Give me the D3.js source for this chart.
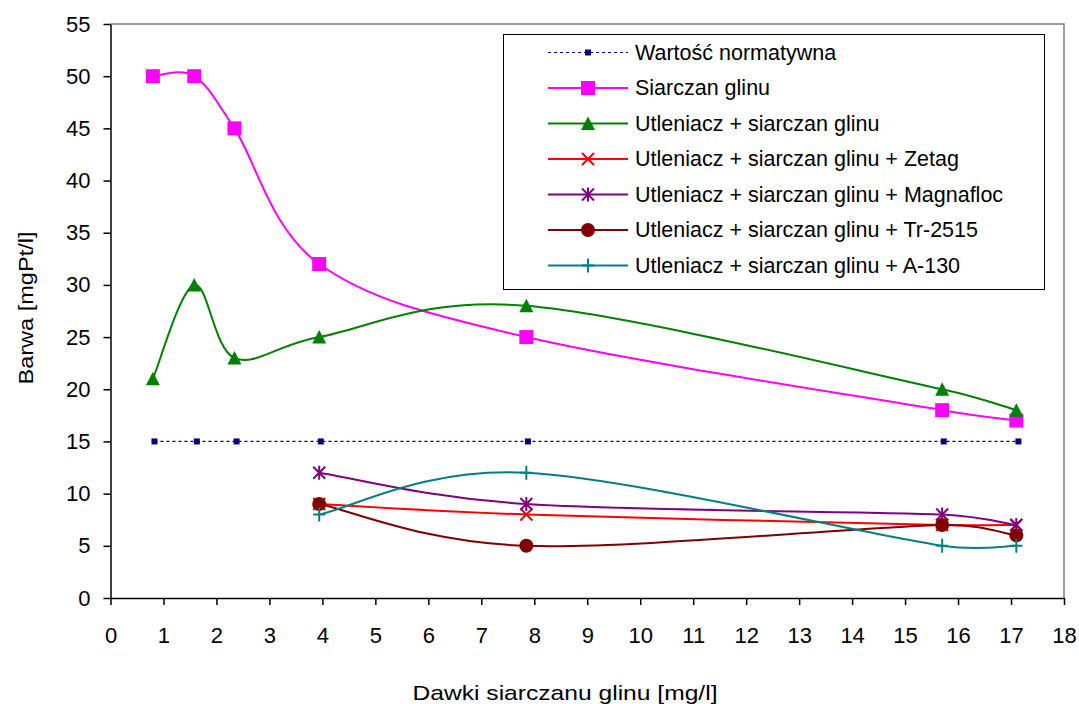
<!DOCTYPE html>
<html>
<head>
<meta charset="utf-8">
<script src="https://cdn.jsdelivr.net/npm/d3@7/dist/d3.min.js"></script>
<style>
  html, body { margin: 0; padding: 0; background: #fff; }
  svg { display: block; font-family: Arial, "Liberation Sans", sans-serif; }
</style>
</head>
<body>
<svg id="chart" width="1079" height="704"></svg>
<script>
// Doses of aluminium sulphate [mg/l]
const doses = [0.8, 1.58, 2.34, 3.94, 7.85, 15.7, 17.1];
const normDoses = [0.83, 1.63, 2.38, 3.97, 7.88, 15.73, 17.14];

// Colour [mgPt/l] per series
const normValues = [15, 15, 15, 15, 15, 15, 15];
const siarczanValues = [50, 50, 45, 32, 25, 18, 17];
const utlValues = [21, 30, 23, 25, 28, 20, 18];
const zetagValues = [9, 8, 7, 7];
const magnaflocValues = [12, 9, 8, 7];
const trValues = [9, 5, 7, 6];
const a130Values = [8, 12, 5, 5];

const seriesNames = [
  "Wartość normatywna",
  "Siarczan glinu",
  "Utleniacz + siarczan glinu",
  "Utleniacz + siarczan glinu + Zetag",
  "Utleniacz + siarczan glinu + Magnafloc",
  "Utleniacz + siarczan glinu + Tr-2515",
  "Utleniacz + siarczan glinu + A-130"
];

const xTicks = d3.range(0, 19, 1);
const yTicks = d3.range(0, 56, 5);

const svg = d3.select("#chart");
const W = 1079, H = 704;
const plotLeft = 110.5, plotRight = 1064, plotTop = 24, plotBottom = 598;

const x = d3.scaleLinear().domain([0, 18]).range([plotLeft, plotRight]);
const y = d3.scaleLinear().domain([0, 55]).range([plotBottom, plotTop]);

svg.append("rect").attr("width", W).attr("height", H).attr("fill", "#fff");

// plot-area frame (top and right edges)
svg.append("path")
  .attr("d", `M${plotLeft},${plotTop}H${plotRight}V${plotBottom}`)
  .attr("fill", "none").attr("stroke", "#808080").attr("stroke-width", 1.5);

// axes
const yAxis = svg.append("g")
  .attr("transform", `translate(${plotLeft},0)`)
  .call(d3.axisLeft(y).tickValues(yTicks).tickSize(7).tickSizeOuter(0).tickPadding(13));
const xAxis = svg.append("g")
  .attr("transform", `translate(0,${plotBottom})`)
  .call(d3.axisBottom(x).tickValues(xTicks).tickSize(7).tickSizeOuter(0).tickPadding(22));
[xAxis, yAxis].forEach(g => {
  g.select(".domain").attr("stroke", "#000").attr("stroke-width", 1.5);
  g.selectAll(".tick line").attr("stroke", "#000").attr("stroke-width", 1.5);
  g.selectAll(".tick text").attr("fill", "#000").style("font-size", "22px")
    .style("font-family", "Arial, 'Liberation Sans', sans-serif");
});

// axis titles
svg.append("text")
  .attr("x", 565).attr("y", 700)
  .attr("text-anchor", "middle")
  .attr("textLength", 305).attr("lengthAdjust", "spacingAndGlyphs")
  .style("font-size", "21px").attr("fill", "#000")
  .text("Dawki siarczanu glinu [mg/l]");
svg.append("text")
  .attr("transform", "translate(33,308) rotate(-90)")
  .attr("text-anchor", "middle")
  .attr("textLength", 153).attr("lengthAdjust", "spacingAndGlyphs")
  .style("font-size", "21px").attr("fill", "#000")
  .text("Barwa [mgPt/l]");

// marker shapes
const markers = {
  smallSquare: "M-3,-3H3V3H-3Z",
  square: "M-7,-7H7V7H-7Z",
  triangle: "M0,-7L7,6.5L-7,6.5Z",
  x: "M-6,-6L6,6M-6,6L6,-6",
  star: "M-6,-6L6,6M-6,6L6,-6M0,-7V7",
  circle: d3.symbol(d3.symbolCircle, Math.PI * 49)(),
  plus: "M-6,0H6M0,-7V7"
};

const series = [
  { name: seriesNames[0], xs: normDoses, ys: normValues, color: "#000080", width: 1.2, dash: "3,3", marker: "smallSquare", filled: true, smooth: false },
  { name: seriesNames[1], xs: doses, ys: siarczanValues, color: "#FF00FF", width: 2, marker: "square", filled: true, smooth: true },
  { name: seriesNames[2], xs: doses, ys: utlValues, color: "#008000", width: 2, marker: "triangle", filled: true, smooth: true },
  { name: seriesNames[3], xs: doses.slice(3), ys: zetagValues, color: "#FF0000", width: 2, marker: "x", filled: false, smooth: true },
  { name: seriesNames[4], xs: doses.slice(3), ys: magnaflocValues, color: "#800080", width: 2, marker: "star", filled: false, smooth: true },
  { name: seriesNames[5], xs: doses.slice(3), ys: trValues, color: "#800000", width: 2, marker: "circle", filled: true, smooth: true },
  { name: seriesNames[6], xs: doses.slice(3), ys: a130Values, color: "#008080", width: 2, marker: "plus", filled: false, smooth: true }
];

function drawMarker(g, s, px, py) {
  const m = g.append("path")
    .attr("d", markers[s.marker])
    .attr("transform", `translate(${px},${py})`);
  if (s.filled) m.attr("fill", s.color).attr("stroke", "none");
  else m.attr("fill", "none").attr("stroke", s.color).attr("stroke-width", 2);
}

// Spreadsheet-style smoothed line: Bezier segments whose tangent arms are
// 1/6 of the neighbour chord, capped at half of the segment length.
function smoothPath(pts) {
  const p = d3.path();
  const dist = (a, b) => Math.hypot(b[0] - a[0], b[1] - a[1]);
  p.moveTo(pts[0][0], pts[0][1]);
  for (let i = 0; i < pts.length - 1; i++) {
    const P0 = pts[Math.max(0, i - 1)], P1 = pts[i], P2 = pts[i + 1];
    const P3 = pts[Math.min(pts.length - 1, i + 2)];
    const d12 = dist(P1, P2);
    const arm = (A, B) => {
      const len = dist(A, B);
      if (len === 0) return [0, 0];
      const a = Math.min(len / 6, d12 / 2);
      return [(B[0] - A[0]) / len * a, (B[1] - A[1]) / len * a];
    };
    const t1 = arm(P0, P2), t2 = arm(P1, P3);
    p.bezierCurveTo(P1[0] + t1[0], P1[1] + t1[1], P2[0] - t2[0], P2[1] - t2[1], P2[0], P2[1]);
  }
  return p.toString();
}

const plot = svg.append("g");

series.forEach(s => {
  const pts = s.xs.map((d, i) => [x(d), y(s.ys[i])]);
  const g = plot.append("g");
  g.append("path")
    .attr("d", s.smooth ? smoothPath(pts) : d3.line()(pts))
    .attr("fill", "none")
    .attr("stroke", s.color)
    .attr("stroke-width", s.width)
    .attr("stroke-dasharray", s.dash || null);
  pts.forEach(pt => drawMarker(g, s, pt[0], pt[1]));
});

// legend
const lg = svg.append("g");
lg.append("rect")
  .attr("x", 503.5).attr("y", 34.5).attr("width", 541).attr("height", 255)
  .attr("fill", "#fff").attr("stroke", "#000").attr("stroke-width", 1);
series.forEach((s, i) => {
  const ry = 52.5 + i * 35.5;
  lg.append("line")
    .attr("x1", 548).attr("x2", 628).attr("y1", ry).attr("y2", ry)
    .attr("stroke", s.color).attr("stroke-width", s.width)
    .attr("stroke-dasharray", s.dash || null);
  drawMarker(lg, s, 588, ry);
  lg.append("text")
    .attr("x", 635).attr("y", ry + 7)
    .style("font-size", "21.5px").attr("fill", "#000")
    .text(s.name);
});
</script>
</body>
</html>
